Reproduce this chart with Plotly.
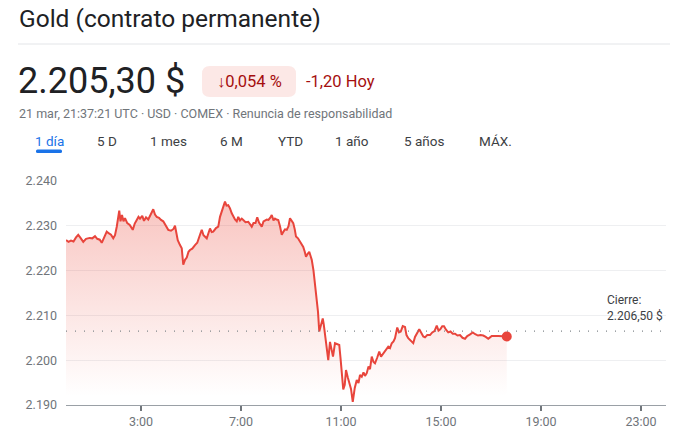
import plotly.graph_objects as go

# ---------------- data ----------------
hours = [0.00, 0.10, 0.20, 0.30, 0.40, 0.49, 0.58, 0.69, 0.80, 0.95, 1.05, 1.16, 1.25, 1.35, 1.43, 1.52, 1.63, 1.72, 1.80, 1.89,
         1.96, 2.03, 2.13, 2.18, 2.24, 2.30, 2.36, 2.45, 2.55, 2.67, 2.75, 2.83, 2.90, 2.96, 3.05, 3.12, 3.20, 3.29, 3.40, 3.49,
         3.56, 3.63, 3.72, 3.80, 3.89, 4.00, 4.09, 4.20, 4.30, 4.36, 4.42, 4.47, 4.56, 4.63, 4.69, 4.76, 4.83, 4.90, 4.96, 5.05,
         5.16, 5.25, 5.36, 5.43, 5.50, 5.63, 5.70, 5.76, 5.83, 5.89, 6.00, 6.09, 6.16, 6.23, 6.30, 6.36, 6.42, 6.49, 6.56, 6.63,
         6.70, 6.76, 6.83, 6.89, 6.96, 7.03, 7.09, 7.18, 7.29, 7.36, 7.43, 7.50, 7.58, 7.65, 7.72, 7.83, 7.90, 8.03, 8.10, 8.17,
         8.23, 8.30, 8.36, 8.42, 8.49, 8.56, 8.63, 8.70, 8.76, 8.83, 8.90, 8.96, 9.03, 9.09, 9.15, 9.20, 9.28, 9.36, 9.43, 9.49,
         9.55, 9.60, 9.66, 9.73, 9.78, 9.83, 9.90, 9.96, 10.03, 10.08, 10.13, 10.20, 10.27, 10.31, 10.36, 10.43, 10.49, 10.56, 10.62, 10.68,
         10.76, 10.85, 10.93, 10.98, 11.04, 11.09, 11.15, 11.20, 11.27, 11.33, 11.40, 11.47, 11.55, 11.63, 11.70, 11.76, 11.83, 11.90, 11.96, 12.03,
         12.10, 12.16, 12.23, 12.30, 12.36, 12.45, 12.53, 12.60, 12.69, 12.78, 12.89, 12.96, 13.03, 13.10, 13.16, 13.25, 13.32, 13.39, 13.47, 13.56,
         13.62, 13.69, 13.78, 13.89, 13.96, 14.05, 14.13, 14.22, 14.29, 14.36, 14.45, 14.56, 14.65, 14.74, 14.83, 14.90, 14.97, 15.05, 15.12, 15.20,
         15.29, 15.38, 15.47, 15.56, 15.66, 15.76, 15.86, 15.96, 16.05, 16.15, 16.27, 16.37, 16.48, 16.58, 16.69, 16.79, 16.89, 16.96, 17.03, 17.30,
         17.63]
prices = [2226.8, 2226.4, 2226.7, 2226.5, 2227.4, 2228.0, 2227.3, 2226.4, 2227.1, 2227.3, 2227.2, 2227.7, 2227.1, 2226.9, 2226.2, 2227.4, 2228.7, 2228.3, 2228.0, 2227.2,
          2227.9, 2229.8, 2233.4, 2231.0, 2232.4, 2231.0, 2231.7, 2230.6, 2230.2, 2229.1, 2230.5, 2231.3, 2232.0, 2231.6, 2232.2, 2231.1, 2231.9, 2231.4, 2232.6, 2233.7,
          2232.5, 2232.0, 2231.8, 2231.3, 2231.0, 2229.8, 2229.1, 2228.9, 2229.3, 2230.0, 2228.2, 2226.8, 2225.7, 2225.0, 2221.3, 2222.4, 2222.9, 2224.2, 2224.6, 2224.9,
          2225.7, 2226.2, 2228.0, 2229.1, 2227.9, 2227.2, 2228.4, 2229.4, 2228.6, 2228.7, 2229.5, 2229.8, 2232.0, 2233.5, 2234.4, 2235.4, 2234.5, 2234.6, 2233.9, 2232.8,
          2231.9, 2231.4, 2231.0, 2232.0, 2231.2, 2231.6, 2231.3, 2230.8, 2230.9, 2230.4, 2229.8, 2230.6, 2230.6, 2231.9, 2230.7, 2229.8, 2231.0, 2231.4, 2231.3, 2231.8,
          2232.4, 2231.2, 2231.6, 2231.4, 2231.3, 2229.9, 2228.0, 2228.7, 2229.2, 2229.1, 2229.9, 2231.7, 2231.2, 2230.6, 2229.2, 2227.6, 2227.2, 2226.5, 2226.0, 2225.3,
          2224.2, 2223.1, 2223.7, 2224.2, 2223.3, 2222.4, 2220.0, 2217.2, 2214.2, 2210.8, 2206.4, 2207.8, 2209.3, 2208.0, 2206.0, 2203.0, 2200.0, 2204.1, 2202.0, 2200.8,
          2203.8, 2203.6, 2203.4, 2200.5, 2196.0, 2193.5, 2194.5, 2197.8, 2196.2, 2194.8, 2193.6, 2190.7, 2193.8, 2195.6, 2194.9, 2196.7, 2196.3, 2197.3, 2196.5, 2197.1,
          2198.6, 2198.0, 2200.8, 2199.6, 2199.3, 2200.6, 2201.9, 2200.8, 2201.5, 2202.4, 2203.0, 2202.7, 2203.8, 2204.2, 2204.9, 2207.3, 2206.2, 2206.4, 2207.6, 2207.4,
          2205.6, 2204.9, 2204.5, 2203.8, 2205.2, 2206.1, 2206.9, 2206.0, 2205.3, 2205.1, 2205.6, 2205.6, 2206.2, 2206.5, 2207.7, 2206.6, 2206.9, 2207.6, 2207.6, 2206.8,
          2206.2, 2206.4, 2205.9, 2205.9, 2205.5, 2205.6, 2205.0, 2204.8, 2205.4, 2205.7, 2206.2, 2205.8, 2205.5, 2205.6, 2205.5, 2205.2, 2204.8, 2205.1, 2205.4, 2205.4,
          2205.3]
prev_close = 2206.5
x_tick_vals = [3, 7, 11, 15, 19, 23]
x_tick_labels = ["3:00", "7:00", "11:00", "15:00", "19:00", "23:00"]
y_tick_vals = [2190, 2200, 2210, 2220, 2230, 2240]
y_tick_labels = ["2.190", "2.200", "2.210", "2.220", "2.230", "2.240"]
tab_labels = ["1 día", "5 D", "1 mes", "6 M", "YTD", "1 año", "5 años", "MÁX."]

# ---------------- layout helpers (pixel -> paper) ----------------
W, H = 685, 443
L, R, T, B = 66, 666, 181, 405


def PX(x):
    return (x - L) / (R - L)


def PY(y):
    return (B - y) / (B - T)


def rounded_rect(x0, y0, x1, y1, r):
    pts = [
        f"M {PX(x0 + r)},{PY(y0)}",
        f"L {PX(x1 - r)},{PY(y0)}",
        f"Q {PX(x1)},{PY(y0)} {PX(x1)},{PY(y0 + r)}",
        f"L {PX(x1)},{PY(y1 - r)}",
        f"Q {PX(x1)},{PY(y1)} {PX(x1 - r)},{PY(y1)}",
        f"L {PX(x0 + r)},{PY(y1)}",
        f"Q {PX(x0)},{PY(y1)} {PX(x0)},{PY(y1 - r)}",
        f"L {PX(x0)},{PY(y0 + r)}",
        f"Q {PX(x0)},{PY(y0)} {PX(x0 + r)},{PY(y0)}",
        "Z",
    ]
    return " ".join(pts)


FONT = "Roboto, Arial, sans-serif"
RED = "#e8453c"

fig = go.Figure()
fig.add_trace(go.Scatter(
    x=hours, y=prices, mode="lines",
    line=dict(color=RED, width=2),
    fill="tozeroy",
    fillgradient=dict(type="vertical", start=2192, stop=2237,
                      colorscale=[[0, "rgba(234,67,53,0)"], [1, "rgba(234,67,53,0.32)"]]),
    hoverinfo="skip", showlegend=False,
))
fig.add_trace(go.Scatter(
    x=[hours[-1]], y=[prices[-1]], mode="markers",
    marker=dict(color=RED, size=10), showlegend=False, hoverinfo="skip",
))

shapes = [
    dict(type="line", xref="x", yref="y", x0=0, x1=24, y0=prev_close, y1=prev_close,
         line=dict(color="#80868b", width=1.2, dash="1px,8px"), layer="above"),
    dict(type="line", xref="paper", yref="paper", x0=PX(18), x1=PX(670), y0=PY(44), y1=PY(44),
         line=dict(color="#e3e5e8", width=1)),
    dict(type="path", xref="paper", yref="paper", path=rounded_rect(202, 66, 296, 97, 8),
         fillcolor="#fce8e6", line=dict(width=0)),
    dict(type="path", xref="paper", yref="paper", path=rounded_rect(36, 149.5, 62, 153, 1.5),
         fillcolor="#1a73e8", line=dict(width=0)),
]

annotations = [
    dict(text="Gold (contrato permanente)", x=PX(17), y=PY(19), xanchor="left", yanchor="middle",
         font=dict(size=24.5, color="#202124", family=FONT)),
    dict(text="2.205,30 $", x=PX(16), y=PY(81), xanchor="left", yanchor="middle",
         font=dict(size=36, color="#202124", family=FONT)),
    dict(text="↓0,054 %", x=PX(249), y=PY(81), xanchor="center", yanchor="middle",
         font=dict(size=16.5, color="#a50e0e", family=FONT)),
    dict(text="-1,20 Hoy", x=PX(304), y=PY(81), xanchor="left", yanchor="middle",
         font=dict(size=16.5, color="#a50e0e", family=FONT)),
    dict(text="21 mar, 21:37:21 UTC · USD · COMEX · Renuncia de responsabilidad", x=PX(17), y=PY(113),
         xanchor="left", yanchor="middle", font=dict(size=12.5, color="#70757a", family=FONT)),
    dict(text="Cierre:<br>2.206,50 $", x=PX(605), y=PY(325), xanchor="left", yanchor="bottom", align="left",
         font=dict(size=12, color="#3c4043", family=FONT)),
]
tab_centers = [49, 107, 168.5, 231.5, 290, 352, 423.5, 495.5]
for i, (lab, cx) in enumerate(zip(tab_labels, tab_centers)):
    annotations.append(dict(text=lab, x=PX(cx), y=PY(141), xanchor="center", yanchor="middle",
                            font=dict(size=13.5, color="#1a73e8" if i == 0 else "#3c4043", family=FONT)))
for a in annotations:
    a.update(xref="paper", yref="paper", showarrow=False)

fig.update_layout(
    width=W, height=H,
    margin=dict(l=L, r=W - R, t=T, b=H - B, pad=0),
    paper_bgcolor="white", plot_bgcolor="white",
    font=dict(family=FONT, color="#70757a", size=12.5),
    shapes=shapes, annotations=annotations,
    xaxis=dict(range=[0, 24], tickvals=x_tick_vals, ticktext=x_tick_labels,
               showgrid=False, zeroline=False, showline=True, linecolor="#9aa0a6", linewidth=1,
               ticks="outside", ticklen=5, tickwidth=2, tickcolor="#70757a",
               tickfont=dict(size=12.5, color="#70757a")),
    yaxis=dict(range=[2190, 2240], tickvals=y_tick_vals, ticktext=y_tick_labels,
               showgrid=True, gridcolor="#eeeff1", gridwidth=1, zeroline=False, showline=False,
               ticks="", ticklabelstandoff=8, tickfont=dict(size=12.5, color="#70757a")),
    hovermode=False,
)

fig.write_html("out.html", config={"displayModeBar": False},
               post_script="document.body.style.margin='0';document.body.style.overflow='hidden';")
